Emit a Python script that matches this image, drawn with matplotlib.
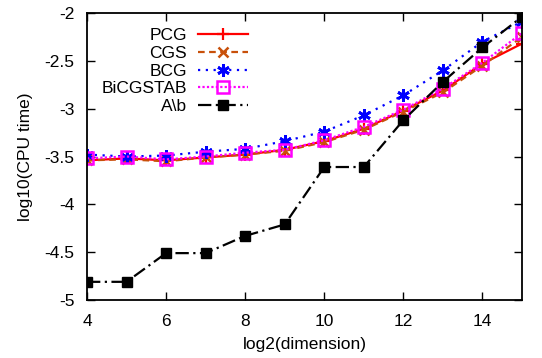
import matplotlib
matplotlib.use("Agg")
import matplotlib.pyplot as plt

plt.rcParams['font.family'] = ['Liberation Sans', 'DejaVu Sans']

log2_dim = [4, 5, 6, 7, 8, 9, 10, 11, 12, 13, 14, 15]

pcg = [-3.54, -3.52, -3.54, -3.51, -3.48, -3.43, -3.34, -3.21, -3.02, -2.81, -2.53, -2.32]
cgs = [-3.54, -3.53, -3.55, -3.51, -3.48, -3.44, -3.35, -3.22, -3.03, -2.83, -2.55, -2.25]
bcg = [-3.48, -3.50, -3.49, -3.45, -3.42, -3.34, -3.24, -3.07, -2.86, -2.60, -2.30, -2.09]
bicgstab = [-3.52, -3.50, -3.53, -3.50, -3.46, -3.43, -3.33, -3.19, -3.01, -2.79, -2.52, -2.21]
backslash = [-4.81, -4.81, -4.51, -4.51, -4.33, -4.21, -3.61, -3.61, -3.12, -2.72, -2.36, -2.04]

x_ticks = [4, 6, 8, 10, 12, 14]
y_ticks = [-5, -4.5, -4, -3.5, -3, -2.5, -2]

fs = 12.5

fig = plt.figure(figsize=(5.42, 3.58), dpi=100)
ax = fig.add_axes([87 / 542, 1 - 300 / 358, 435 / 542, 287 / 358])

lw = 1.6
ax.plot(log2_dim, pcg, color='#ff0000', lw=lw, ls='-', marker='+', ms=9, mew=1.6, label='PCG')
ax.plot(log2_dim, cgs, color='#c8500a', lw=lw, ls=(0, (3, 2)), marker='x', ms=7, mew=1.8, label='CGS')
ax.plot(log2_dim, bcg, color='#0000ff', lw=lw, ls=(0, (1, 2.5)), marker=(6, 2, 0), ms=9, mew=2, label='BCG')
ax.plot(log2_dim, bicgstab, color='#ff00ff', lw=lw, ls=(0, (1, 1)), marker='s', ms=8, mew=1.8,
        mfc='none', label='BiCGSTAB')
ax.plot(log2_dim, backslash, color='#000000', lw=lw, ls=(0, (6, 2, 1, 2)), marker='s', ms=7.5,
        label='A\\b')

ax.set_xlim(4, 15)
ax.set_ylim(-5, -2)
ax.set_xticks(x_ticks)
ax.set_yticks(y_ticks)
ax.set_yticklabels(['-5', '-4.5', '-4', '-3.5', '-3', '-2.5', '-2'])
ax.tick_params(direction='in', top=True, right=True, length=6, width=1, labelsize=fs)
ax.tick_params(axis='x', pad=10)
ax.tick_params(axis='y', pad=9)
for s in ax.spines.values():
    s.set_linewidth(1.3)

ax.set_xlabel('log2(dimension)', fontsize=fs, labelpad=6)
ax.set_ylabel('log10(CPU time)', fontsize=fs, labelpad=8)

leg = ax.legend(loc='upper right', bbox_to_anchor=(248 / 542, 1 - 28 / 358),
                bbox_transform=fig.transFigure, frameon=False, markerfirst=False,
                fontsize=fs, handlelength=2.9, handletextpad=0.6, labelspacing=0.15,
                borderaxespad=0, borderpad=0)

fig.savefig('out.png', dpi=100)
